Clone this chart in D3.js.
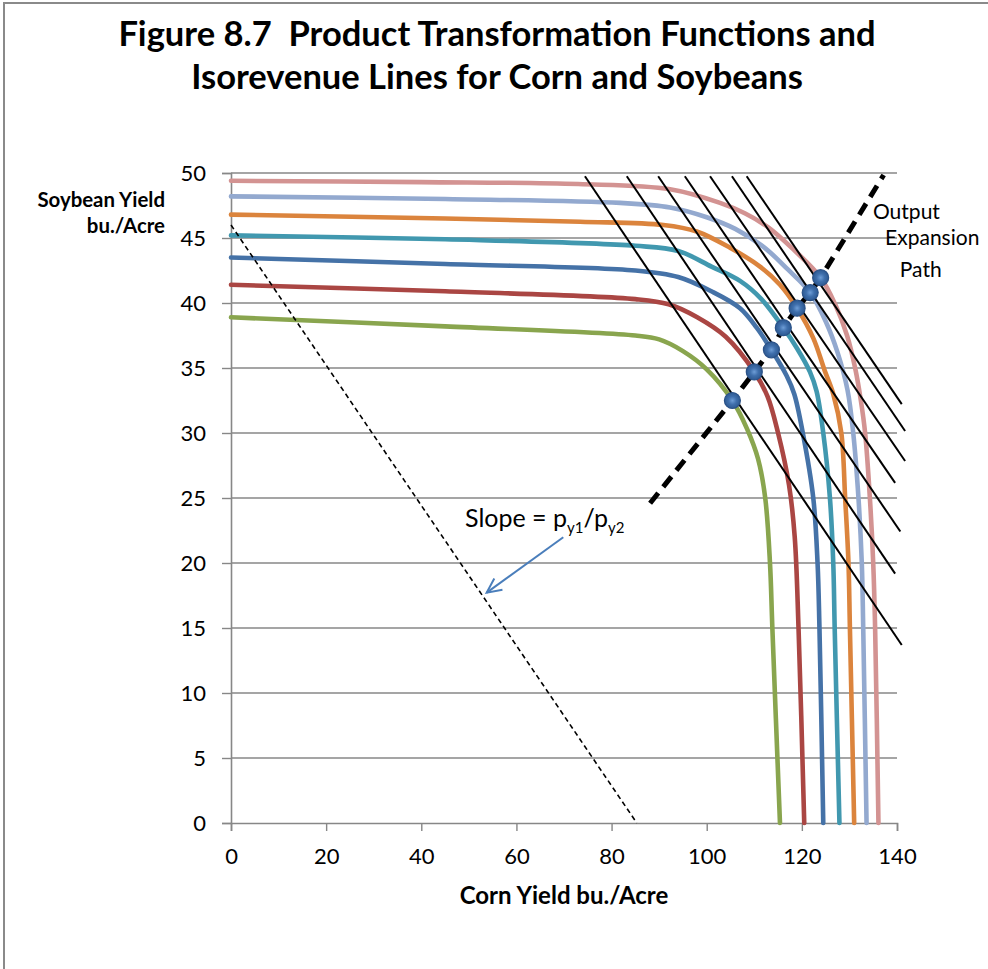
<!DOCTYPE html>
<html><head><meta charset="utf-8">
<script src="https://cdn.jsdelivr.net/npm/d3@7/dist/d3.min.js"></script>
<style>
body{margin:0;background:#fff}
svg{display:block}
text{font-family:Lato,"Open Sans",sans-serif;white-space:pre}
</style>
</head><body>
<svg id="chart" width="988" height="969"></svg>
<script>
// ---------- data ----------
const titleLines = ["Figure 8.7  Product Transformation Functions and", "Isorevenue Lines for Corn and Soybeans"];
const xLabel = "Corn Yield bu./Acre";
const yLabelLines = ["Soybean Yield", "bu./Acre"];
const xTicks = [0, 20, 40, 60, 80, 100, 120, 140];
const yTicks = [0, 5, 10, 15, 20, 25, 30, 35, 40, 45, 50];

// product transformation functions (corn, soybean)
const ptfGreen  = [[0,38.9],[45,38.2],[85,37.5],[90,37.2],[95,36.3],[100,34.9],[105.4,32.5],[108.5,30.3],[110.8,28.0],[112.3,25],[113.3,20],[113.8,15],[115.4,0]];
const ptfRed    = [[0,41.4],[45,40.9],[85,40.3],[92,39.9],[98,38.9],[104,37.4],[110.0,34.7],[112.8,32.8],[115.0,30],[117.3,26],[118.5,22],[119.3,15],[120.5,0]];
const ptfBlue   = [[0,43.5],[45,43.0],[85,42.5],[94,42.0],[101,40.9],[107,39.6],[110.5,38.1],[113.6,36.4],[116.8,34.4],[118.4,33.0],[120.2,30],[122.4,25],[123.3,20],[123.7,15],[124.5,0]];
const ptfTeal   = [[0,45.2],[45,44.9],[85,44.4],[94,44.0],[101,42.8],[107,41.7],[111.5,40.3],[116.1,38.1],[119,36.5],[121.7,34.7],[123.1,33.2],[124.5,30],[125.9,25],[126.6,20],[126.9,15],[127.9,0]];
const ptfOrange = [[0,46.8],[45,46.5],[73.4,46.25],[90.9,46.0],[97.9,45.5],[104.9,44.25],[111.2,42.8],[115.4,41.4],[119.0,39.6],[122.4,37.3],[124.8,34.8],[126.6,33.0],[128.3,30],[129.1,25],[129.8,20],[130.1,15],[131.0,0]];
const ptfLtBlue = [[0,48.2],[45,48.0],[81.8,47.7],[92.3,47.35],[100,46.6],[106,45.7],[112,44.3],[117,42.6],[121.75,40.8],[125,38.6],[127.5,36.2],[129.6,33.3],[130.8,30],[131.9,25],[132.6,20],[132.9,15],[133.6,0]];
const ptfPink   = [[0,49.4],[40,49.3],[73,49.15],[92.3,48.75],[102.8,47.7],[108,46.9],[113,45.8],[118,44.2],[123.95,41.95],[127,39.9],[129.5,37.5],[131.2,35],[132.4,32.5],[133.3,30],[134.3,25],[135.0,20],[135.4,15],[136.1,0]];
const curveSeries = [ptfGreen, ptfRed, ptfBlue, ptfTeal, ptfOrange, ptfLtBlue, ptfPink];
const curveColors = ["#89A54E", "#AA4643", "#4572A7", "#4198AF", "#DB843D", "#93A9CF", "#D39392"];

// isorevenue lines [x1, y1, x2, y2]
const isoLines = [
  [74.4, 49.75, 141.0, 13.69],
  [83.2, 49.75, 139.6, 19.18],
  [89.8, 49.75, 140.7, 22.42],
  [95.4, 49.75, 139.6, 26.16],
  [100.7, 49.75, 141.7, 27.85],
  [105.3, 49.75, 141.7, 30.15],
  [108.4, 49.75, 141.0, 32.22]
];
// slope reference line
const slopeLine = [[0, 46.0], [85.3, 0]];
// tangency points and output expansion path
const tangencyPoints = [[105.4,32.5],[110.0,34.7],[113.6,36.4],[116.1,38.1],[119.0,39.6],[121.75,40.8],[123.95,41.95]];
const pathStart = [88.1, 24.6];
const pathEnd = [137.2, 49.85];

// annotations (data coordinates)
const slopeLabelPos = [49.2, 22.8];
const arrowFrom = [69.85, 21.98];
const arrowTo = [53.75, 17.72];
const oepLabel = [["Output", 134.95, 46.5], ["Expansion", 137.5, 44.46], ["Path", 140.6, 42.02]];

// ---------- drawing ----------
const svg = d3.select("#chart");
const x = d3.scaleLinear().domain([0, 140]).range([231, 897]);
const y = d3.scaleLinear().domain([0, 50]).range([823, 173]);

// outer frame
svg.append("rect").attr("x", 4).attr("y", 3).attr("width", 1000).attr("height", 1000)
  .attr("fill", "none").attr("stroke", "#8a8a8a").attr("stroke-width", 2);

// title
svg.append("g").selectAll("text").data(titleLines).join("text")
  .attr("x", 497).attr("y", (d, i) => 46 + i * 43)
  .attr("text-anchor", "middle").attr("font-weight", "bold").attr("font-size", 34.5)
  .attr("fill", "#000").text(d => d);

// gridlines
svg.append("g").selectAll("line").data(yTicks.filter(d => d > 0)).join("line")
  .attr("x1", x(0)).attr("x2", x(140)).attr("y1", d => y(d)).attr("y2", d => y(d))
  .attr("stroke", "#878787").attr("stroke-width", 1.3);

// axes
const xAxis = svg.append("g").attr("transform", `translate(0,${y(0)})`)
  .call(d3.axisBottom(x).tickValues(xTicks).tickSize(8).tickPadding(17).tickFormat(d3.format("d")));
const yAxis = svg.append("g").attr("transform", `translate(${x(0)},0)`)
  .call(d3.axisLeft(y).tickValues(yTicks).tickSize(9).tickPadding(16).tickFormat(d3.format("d")));
[xAxis, yAxis].forEach(a => {
  a.select(".domain").attr("stroke", "#878787").attr("stroke-width", 1.6);
  a.selectAll(".tick line").attr("stroke", "#878787").attr("stroke-width", 1.4);
  a.selectAll(".tick text").attr("font-family", "Lato").attr("font-size", 22).attr("fill", "#000");
});
yAxis.selectAll(".tick text").attr("dy", "0.35em");

// axis titles
svg.append("text").attr("x", 564).attr("y", 904).attr("text-anchor", "middle")
  .attr("font-weight", "bold").attr("font-size", 24).text(xLabel);
svg.append("g").selectAll("text").data(yLabelLines).join("text")
  .attr("x", 165).attr("y", (d, i) => 207 + i * 26).attr("text-anchor", "end")
  .attr("font-weight", "bold").attr("font-size", 20.4).text(d => d);

// transformation curves
const line = d3.line().x(d => x(d[0])).y(d => y(d[1])).curve(d3.curveCatmullRom.alpha(0.5));
svg.append("g").selectAll("path").data(curveSeries).join("path")
  .attr("d", line).attr("fill", "none")
  .attr("stroke", (d, i) => curveColors[i]).attr("stroke-width", 4.6)
  .attr("stroke-linecap", "round").attr("stroke-linejoin", "round");

// isorevenue lines
svg.append("g").selectAll("line").data(isoLines).join("line")
  .attr("x1", d => x(d[0])).attr("y1", d => y(d[1]))
  .attr("x2", d => x(d[2])).attr("y2", d => y(d[3]))
  .attr("stroke", "#000").attr("stroke-width", 2);

// slope reference line
svg.append("line")
  .attr("x1", x(slopeLine[0][0])).attr("y1", y(slopeLine[0][1]))
  .attr("x2", x(slopeLine[1][0])).attr("y2", y(slopeLine[1][1]))
  .attr("stroke", "#000").attr("stroke-width", 1.6).attr("stroke-dasharray", "5,3.5");

// output expansion path
const pathPts = [pathStart, ...tangencyPoints, pathEnd];
svg.append("path").attr("d", d3.line().x(d => x(d[0])).y(d => y(d[1]))(pathPts))
  .attr("fill", "none").attr("stroke", "#000").attr("stroke-width", 5)
  .attr("stroke-dasharray", "13,8");

// tangency markers
const defs = svg.append("defs");
const grad = defs.append("radialGradient").attr("id", "dotGrad").attr("cx", "50%").attr("cy", "50%").attr("r", "50%");
grad.append("stop").attr("offset", "0%").attr("stop-color", "#6E9DD6");
grad.append("stop").attr("offset", "50%").attr("stop-color", "#3F6FAC");
grad.append("stop").attr("offset", "100%").attr("stop-color", "#2E5A92");
svg.append("g").selectAll("circle").data(tangencyPoints).join("circle")
  .attr("cx", d => x(d[0])).attr("cy", d => y(d[1])).attr("r", 8)
  .attr("fill", "url(#dotGrad)").attr("stroke", "#2B5288").attr("stroke-width", 1.2);

// slope label
const st = svg.append("text").attr("x", x(slopeLabelPos[0])).attr("y", y(slopeLabelPos[1]))
  .attr("font-size", 25).attr("fill", "#000");
st.append("tspan").text("Slope = p");
st.append("tspan").attr("font-size", 15).attr("dy", 6).text("y1");
st.append("tspan").attr("dy", -6).text("/p");
st.append("tspan").attr("font-size", 15).attr("dy", 6).text("y2");

// arrow
const ax1 = x(arrowFrom[0]), ay1 = y(arrowFrom[1]), ax2 = x(arrowTo[0]), ay2 = y(arrowTo[1]);
const ang = Math.atan2(ay2 - ay1, ax2 - ax1);
const hl = 16, ha = 0.45;
svg.append("line").attr("x1", ax1).attr("y1", ay1).attr("x2", ax2).attr("y2", ay2)
  .attr("stroke", "#4A7EBB").attr("stroke-width", 2);
svg.append("path")
  .attr("d", `M${ax2 - hl * Math.cos(ang - ha)},${ay2 - hl * Math.sin(ang - ha)}L${ax2},${ay2}L${ax2 - hl * Math.cos(ang + ha)},${ay2 - hl * Math.sin(ang + ha)}`)
  .attr("fill", "none").attr("stroke", "#4A7EBB").attr("stroke-width", 2).attr("stroke-linejoin", "miter");

// output expansion path label
svg.append("g").selectAll("text").data(oepLabel).join("text")
  .attr("x", d => x(d[1])).attr("y", d => y(d[2]))
  .attr("font-size", 21).attr("fill", "#000").text(d => d[0]);
</script>
</body></html>
